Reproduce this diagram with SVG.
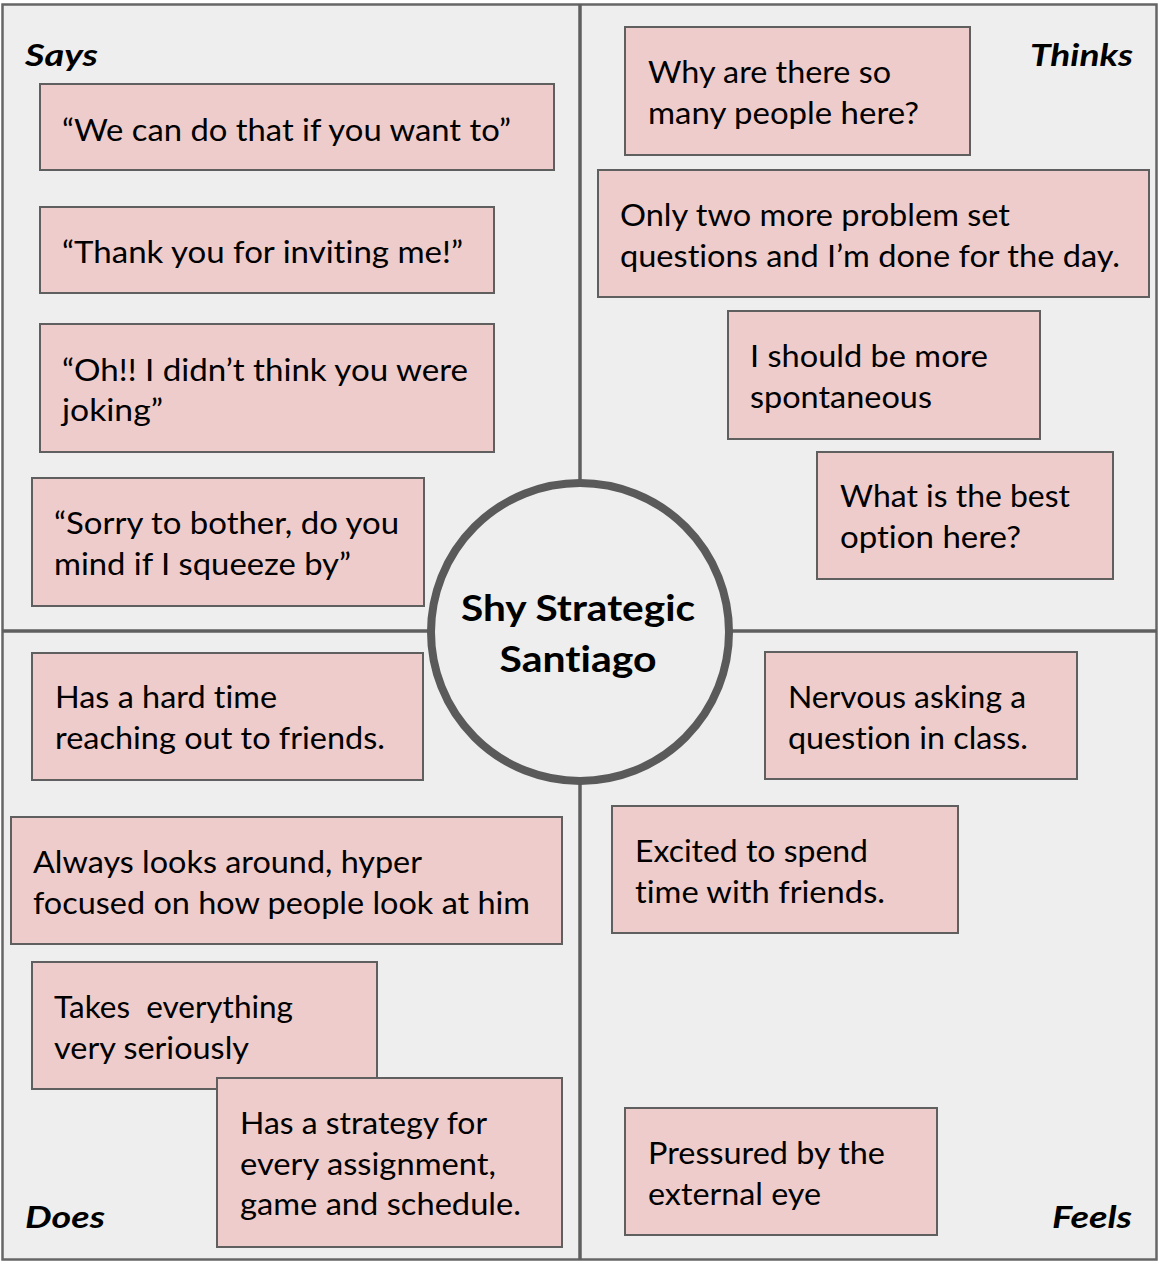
<svg xmlns="http://www.w3.org/2000/svg" width="1162" height="1264" viewBox="0 0 1162 1264">
<style>
.bg{fill:#eeeeee;stroke:#666666;stroke-width:2.5}
.div{stroke:#5f5f5f;stroke-width:3.5;fill:none}
.note{fill:#eecccb;stroke:#5f5f5f;stroke-width:2}
text{font-variant-ligatures:none;font-feature-settings:"liga" 0,"clig" 0,"dlig" 0}
.t{font-family:Lato,"Open Sans","Liberation Sans",sans-serif;font-size:30px;fill:#000}
.h{font-family:Lato,"Open Sans","Liberation Sans",sans-serif;font-size:30px;font-weight:bold;font-style:italic;fill:#000}
.c{font-family:Lato,"Open Sans","Liberation Sans",sans-serif;font-size:37px;font-weight:bold;fill:#000;text-anchor:middle}
</style>
<rect x="0" y="0" width="1162" height="1264" fill="#ffffff"/>
<g id="frame">
<rect class="bg" x="2.5" y="4.5" width="1154" height="1255"/>
<line class="div" x1="580" y1="4" x2="580" y2="1260"/>
<line class="div" x1="2" y1="631" x2="1157" y2="631"/>
</g>
<g id="labels">
<text class="h" x="25" y="66" textLength="73" lengthAdjust="spacingAndGlyphs">Says</text>
<text class="h" x="1030" y="66" textLength="103" lengthAdjust="spacingAndGlyphs">Thinks</text>
<text class="h" x="25" y="1228" textLength="80" lengthAdjust="spacingAndGlyphs">Does</text>
<text class="h" x="1052" y="1228" textLength="80" lengthAdjust="spacingAndGlyphs">Feels</text>
</g>
<g id="center">
<circle cx="580" cy="632" r="149" fill="#eeeeee" stroke="#5a5a5a" stroke-width="8"/>
<text class="c" x="578" y="621" textLength="234" lengthAdjust="spacingAndGlyphs">Shy Strategic</text>
<text class="c" x="578" y="672" textLength="157" lengthAdjust="spacingAndGlyphs">Santiago</text>
</g>
<g id="says1"><rect class="note" x="40" y="84" width="514" height="86"/>
<text class="t" x="62" y="141" textLength="449" lengthAdjust="spacingAndGlyphs">“We can do that if you want to”</text></g>
<g id="says2"><rect class="note" x="40" y="207" width="454" height="86"/>
<text class="t" x="62" y="263" textLength="401" lengthAdjust="spacingAndGlyphs">“Thank you for inviting me!”</text></g>
<g id="says3"><rect class="note" x="40" y="324" width="454" height="128"/>
<text class="t" x="62" y="381" textLength="406" lengthAdjust="spacingAndGlyphs">“Oh!! I didn’t think you were</text>
<text class="t" x="62" y="421" textLength="101" lengthAdjust="spacingAndGlyphs">joking”</text></g>
<g id="says4"><rect class="note" x="32" y="478" width="392" height="128"/>
<text class="t" x="54" y="534" textLength="345" lengthAdjust="spacingAndGlyphs">“Sorry to bother, do you</text>
<text class="t" x="54" y="575" textLength="297" lengthAdjust="spacingAndGlyphs">mind if I squeeze by”</text></g>
<g id="thinks1"><rect class="note" x="625" y="27" width="345" height="128"/>
<text class="t" x="648" y="83" textLength="243" lengthAdjust="spacingAndGlyphs">Why are there so</text>
<text class="t" x="648" y="124" textLength="271" lengthAdjust="spacingAndGlyphs">many people here?</text></g>
<g id="thinks2"><rect class="note" x="598" y="170" width="551" height="127"/>
<text class="t" x="620" y="226" textLength="390" lengthAdjust="spacingAndGlyphs">Only two more problem set</text>
<text class="t" x="620" y="267" textLength="500" lengthAdjust="spacingAndGlyphs">questions and I’m done for the day.</text></g>
<g id="thinks3"><rect class="note" x="728" y="311" width="312" height="128"/>
<text class="t" x="750" y="367" textLength="238" lengthAdjust="spacingAndGlyphs">I should be more</text>
<text class="t" x="750" y="408" textLength="182" lengthAdjust="spacingAndGlyphs">spontaneous</text></g>
<g id="thinks4"><rect class="note" x="817" y="452" width="296" height="127"/>
<text class="t" x="840" y="507" textLength="230" lengthAdjust="spacingAndGlyphs">What is the best</text>
<text class="t" x="840" y="548" textLength="181" lengthAdjust="spacingAndGlyphs">option here?</text></g>
<g id="does1"><rect class="note" x="32" y="653" width="391" height="127"/>
<text class="t" x="55" y="708" textLength="222" lengthAdjust="spacingAndGlyphs">Has a hard time</text>
<text class="t" x="55" y="749" textLength="330" lengthAdjust="spacingAndGlyphs">reaching out to friends.</text></g>
<g id="does2"><rect class="note" x="11" y="817" width="551" height="127"/>
<text class="t" x="33" y="873" textLength="389" lengthAdjust="spacingAndGlyphs">Always looks around, hyper</text>
<text class="t" x="33" y="914" textLength="497" lengthAdjust="spacingAndGlyphs">focused on how people look at him</text></g>
<g id="does3"><rect class="note" x="32" y="962" width="345" height="127"/>
<text class="t" x="54" y="1018" textLength="239" lengthAdjust="spacingAndGlyphs" xml:space="preserve">Takes  everything</text>
<text class="t" x="54" y="1059" textLength="195" lengthAdjust="spacingAndGlyphs">very seriously</text></g>
<g id="does4"><rect class="note" x="217" y="1078" width="345" height="169"/>
<text class="t" x="240" y="1134" textLength="247" lengthAdjust="spacingAndGlyphs">Has a strategy for</text>
<text class="t" x="240" y="1175" textLength="256" lengthAdjust="spacingAndGlyphs">every assignment,</text>
<text class="t" x="240" y="1215" textLength="281" lengthAdjust="spacingAndGlyphs">game and schedule.</text></g>
<g id="feels1"><rect class="note" x="765" y="652" width="312" height="127"/>
<text class="t" x="788" y="708" textLength="238" lengthAdjust="spacingAndGlyphs">Nervous asking a</text>
<text class="t" x="788" y="749" textLength="240" lengthAdjust="spacingAndGlyphs">question in class.</text></g>
<g id="feels2"><rect class="note" x="612" y="806" width="346" height="127"/>
<text class="t" x="635" y="862" textLength="233" lengthAdjust="spacingAndGlyphs">Excited to spend</text>
<text class="t" x="635" y="903" textLength="250" lengthAdjust="spacingAndGlyphs">time with friends.</text></g>
<g id="feels3"><rect class="note" x="625" y="1108" width="312" height="127"/>
<text class="t" x="648" y="1164" textLength="237" lengthAdjust="spacingAndGlyphs">Pressured by the</text>
<text class="t" x="648" y="1205" textLength="173" lengthAdjust="spacingAndGlyphs">external eye</text></g>
</svg>
